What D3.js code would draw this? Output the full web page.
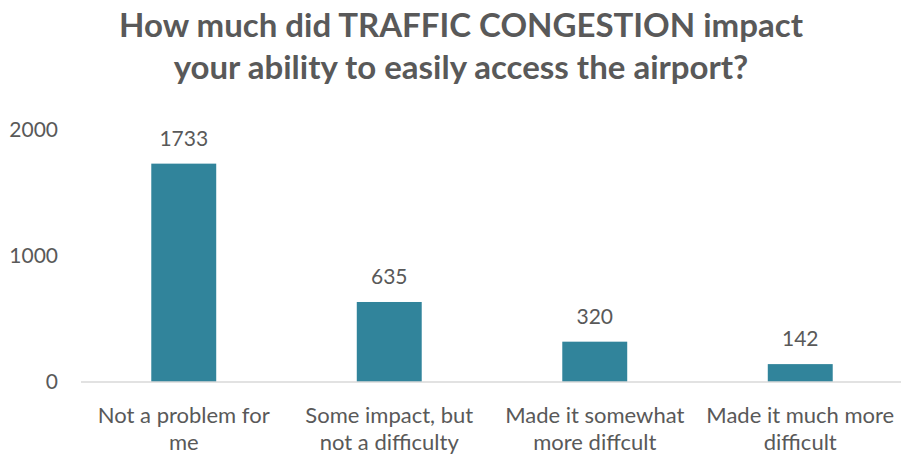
<!DOCTYPE html>
<html><head><meta charset="utf-8">
<script src="https://cdn.jsdelivr.net/npm/d3@7"></script>
<style>
html,body{margin:0;padding:0;background:#fff;}
svg{display:block;}
text{font-family:Lato,"Open Sans",sans-serif;fill:#595959;}
</style></head>
<body><svg id="chart" width="901" height="455"></svg>
<script>
const titleLines = ["How much did TRAFFIC CONGESTION impact", "your ability to easily access the airport?"];
const categories = ["Not a problem for me", "Some impact, but not a difficulty", "Made it somewhat more diffcult", "Made it much more difficult"];
const categoryLines = [["Not a problem for", "me"], ["Some impact, but", "not a difficulty"], ["Made it somewhat", "more diffcult"], ["Made it much more", "difficult"]];
const values = [1733, 635, 320, 142];
const yTicks = [0, 1000, 2000];

const svg = d3.select("#chart");
const x = d3.scaleBand().domain(categories).range([81, 903]).paddingInner(0.684).paddingOuter(0.342);
const y = d3.scaleLinear().domain([0, 2000]).range([382, 130]);

svg.append("g").selectAll("text").data(titleLines).join("text")
  .attr("x", 461).attr("y", (d, i) => 37 + i * 42)
  .attr("text-anchor", "middle").attr("font-size", 33).attr("font-weight", 700)
  .text(d => d);

// y axis labels
const yAxis = d3.axisLeft(y).tickValues(yTicks).tickSize(0).tickPadding(0).tickFormat(d3.format("d"));
const ya = svg.append("g").attr("transform", "translate(58,0)").call(yAxis);
ya.select(".domain").remove();
ya.selectAll("text").attr("font-size", 21).attr("fill", "#595959").style("font-family", "Lato, 'Open Sans', sans-serif");

// bars
svg.append("g").selectAll("rect").data(values).join("rect")
  .attr("x", (d, i) => x(categories[i])).attr("width", x.bandwidth())
  .attr("y", d => y(d)).attr("height", d => y(0) - y(d))
  .attr("fill", "#31849b");

// baseline
const xAxis = d3.axisBottom(x).tickSize(0).tickFormat("");
const xa = svg.append("g").attr("transform", `translate(0,${y(0)})`).call(xAxis);
xa.select(".domain").attr("stroke", "#d9d9d9").attr("stroke-width", 1.5).attr("d", `M81,0H901`);

// value labels
svg.append("g").selectAll("text").data(values).join("text")
  .attr("x", (d, i) => x(categories[i]) + x.bandwidth() / 2)
  .attr("y", d => y(d) - 18)
  .attr("text-anchor", "middle").attr("font-size", 21)
  .text(d => d);

// category labels
const cg = svg.append("g").selectAll("text").data(categoryLines).join("text")
  .attr("x", (d, i) => x(categories[i]) + x.bandwidth() / 2)
  .attr("y", 423).attr("text-anchor", "middle").attr("font-size", 22);
cg.selectAll("tspan").data(d => d).join("tspan")
  .attr("x", function() { return this.parentNode.getAttribute("x"); })
  .attr("dy", (d, i) => i === 0 ? 0 : 27)
  .text(d => d);
</script></body></html>
